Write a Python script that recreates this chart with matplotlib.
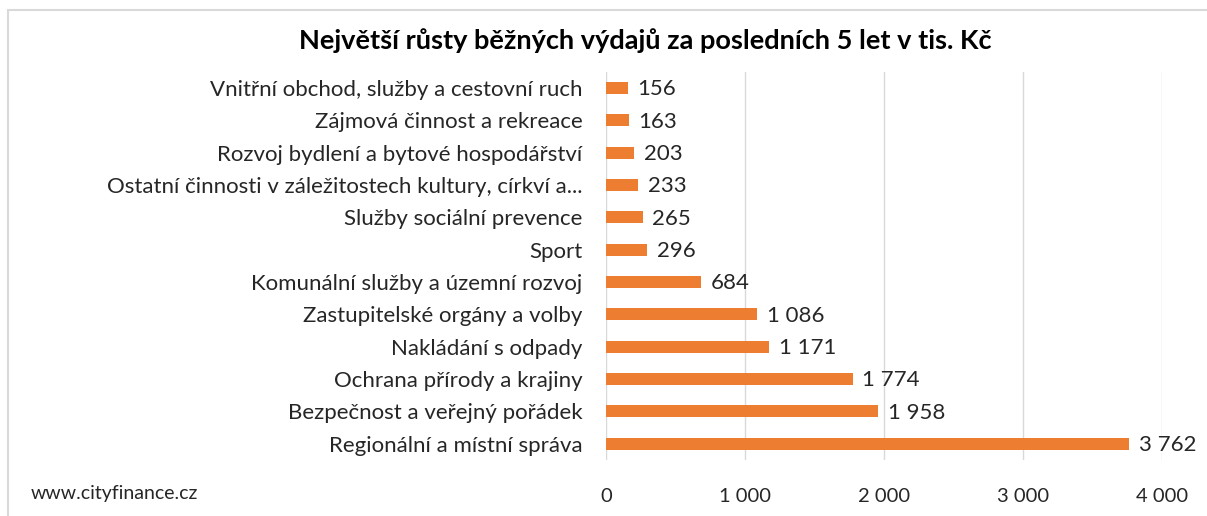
import matplotlib
matplotlib.use("Agg")
import matplotlib.pyplot as plt
from matplotlib.patches import Rectangle

# data, top to bottom as shown in the chart
categories = [
    "Vnitřní obchod, služby a cestovní ruch",
    "Zájmová činnost a rekreace",
    "Rozvoj bydlení a bytové hospodářství",
    "Ostatní činnosti v záležitostech kultury, církví a...",
    "Služby sociální prevence",
    "Sport",
    "Komunální služby a územní rozvoj",
    "Zastupitelské orgány a volby",
    "Nakládání s odpady",
    "Ochrana přírody a krajiny",
    "Bezpečnost a veřejný pořádek",
    "Regionální a místní správa",
]
values = [156, 163, 203, 233, 265, 296, 684, 1086, 1171, 1774, 1958, 3762]
x_ticks = [0, 1000, 2000, 3000, 4000]

TITLE = "Největší růsty běžných výdajů za posledních 5 let v tis. Kč"
SOURCE = "www.cityfinance.cz"

BAR_COLOR = "#ED7D31"
TEXT_COLOR = "#262626"
GRID_COLOR = "#D9D9D9"


def fmt(v):
    return f"{v:,}".replace(",", " ")


plt.rcParams["font.family"] = ["Lato", "DejaVu Sans"]

fig = plt.figure(figsize=(12.07, 5.16), dpi=100)
ax = fig.add_axes([0.502, 0.109, 0.461, 0.752])

pos = list(range(len(categories)))
ax.barh(pos, values, height=0.37, color=BAR_COLOR, zorder=3)
for p, v in zip(pos, values):
    ax.annotate(fmt(v), (v, p), xytext=(7, -1), textcoords="offset points",
                va="center", ha="left", fontsize=16, color=TEXT_COLOR)

ax.set_ylim(len(categories) - 0.5, -0.5)
ax.set_xlim(0, 4000)
ax.set_yticks(pos)
ax.set_yticklabels(categories, fontsize=16, color=TEXT_COLOR)
ax.set_xticks(x_ticks)
ax.set_xticklabels([fmt(t) for t in x_ticks], fontsize=14.5, color=TEXT_COLOR)
ax.tick_params(axis="both", length=0)
ax.tick_params(axis="y", pad=17)
ax.tick_params(axis="x", pad=20)
ax.grid(axis="x", color=GRID_COLOR, linewidth=1, zorder=0)
for s in ax.spines.values():
    s.set_visible(False)

fig.text(0.535, 0.922, TITLE, ha="center", va="center", fontsize=19.5,
         fontweight="bold", color="black")
fig.text(0.025, 0.043, SOURCE, ha="left", va="center", fontsize=14,
         color=TEXT_COLOR)

# light frame around the chart (right/bottom run off the picture)
fig.patches.append(Rectangle((8 / 1207, -0.05), 1.1, 1 - 10 / 516 + 0.05,
                             transform=fig.transFigure, fill=False,
                             edgecolor=GRID_COLOR, linewidth=1.5))

fig.savefig("out.png", dpi=100)
